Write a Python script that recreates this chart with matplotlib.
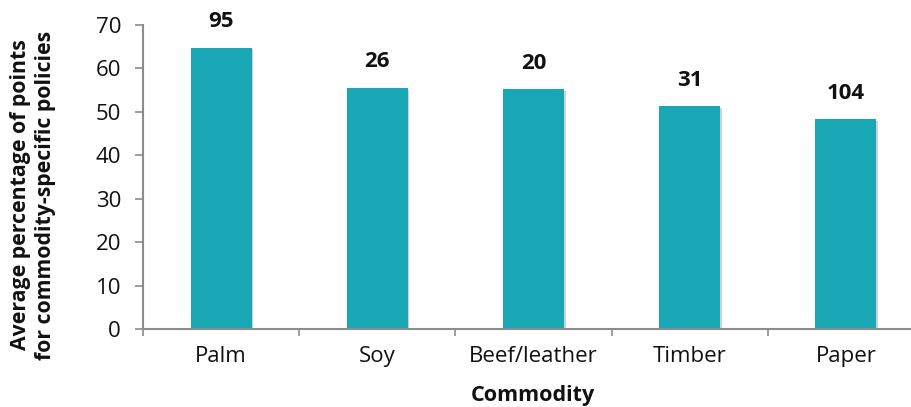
import matplotlib.pyplot as plt
import matplotlib.patheffects as pe

# Commodity policy scores and number of companies per commodity
commodities = ["Palm", "Soy", "Beef/leather", "Timber", "Paper"]
avg_points = [64.7, 55.4, 55.1, 51.2, 48.2]
n_companies = [95, 26, 20, 31, 104]
y_ticks = [0, 10, 20, 30, 40, 50, 60, 70]

BAR_COLOR = "#19A7B5"
AXIS_COLOR = "#8C8C8C"

plt.rcParams["font.family"] = ["Open Sans", "DejaVu Sans"]

fig = plt.figure(figsize=(9.12, 4.07), dpi=100)
ax = fig.add_axes([143 / 912, 78 / 407, 781 / 912, 304.3 / 407])

x = range(len(commodities))
bars = ax.bar(x, avg_points, width=0.39, color=BAR_COLOR, zorder=2)
for b in bars:
    b.set_path_effects([
        pe.SimplePatchShadow(offset=(1.2, -1.2), shadow_rgbFace="#000000", alpha=0.18),
        pe.Normal(),
    ])

# counts above each bar
for xi, h, n in zip(x, avg_points, n_companies):
    ax.annotate(str(n), (xi, h), xytext=(0, 19), textcoords="offset points",
                ha="center", va="center", fontsize=16, fontweight="bold",
                color="#111111")

ax.set_xlim(-0.5, len(commodities) - 0.5)
ax.set_ylim(0, 70)
ax.set_yticks(y_ticks)
ax.set_xticks([i + 0.5 for i in range(-1, len(commodities))], minor=False)
ax.set_xticklabels([])
ax.set_xticks(list(x), minor=True)
ax.set_xticklabels(commodities, minor=True)

ax.tick_params(axis="y", length=5.8, width=1.2, color=AXIS_COLOR,
               pad=10, labelsize=16, labelcolor="#111111")
ax.tick_params(axis="x", which="major", length=5, width=1.2,
               color=AXIS_COLOR, direction="out")
ax.tick_params(axis="x", which="minor", length=0, pad=12,
               labelsize=16, labelcolor="#111111")

for side in ("top", "right"):
    ax.spines[side].set_visible(False)
for side in ("left", "bottom"):
    ax.spines[side].set_color(AXIS_COLOR)
    ax.spines[side].set_linewidth(1.5)

fig.text(533 / 912, 1 - 396 / 407, "Commodity", ha="center", va="center",
         fontsize=15.5, fontweight="bold", color="#111111")
fig.text(33 / 912, 1 - 195 / 407,
         "Average percentage of points\nfor commodity-specific policies",
         rotation=90, ha="center", va="center", fontsize=15.3,
         fontweight="bold", color="#111111", linespacing=1.2)

fig.savefig("out.png", dpi=100)
